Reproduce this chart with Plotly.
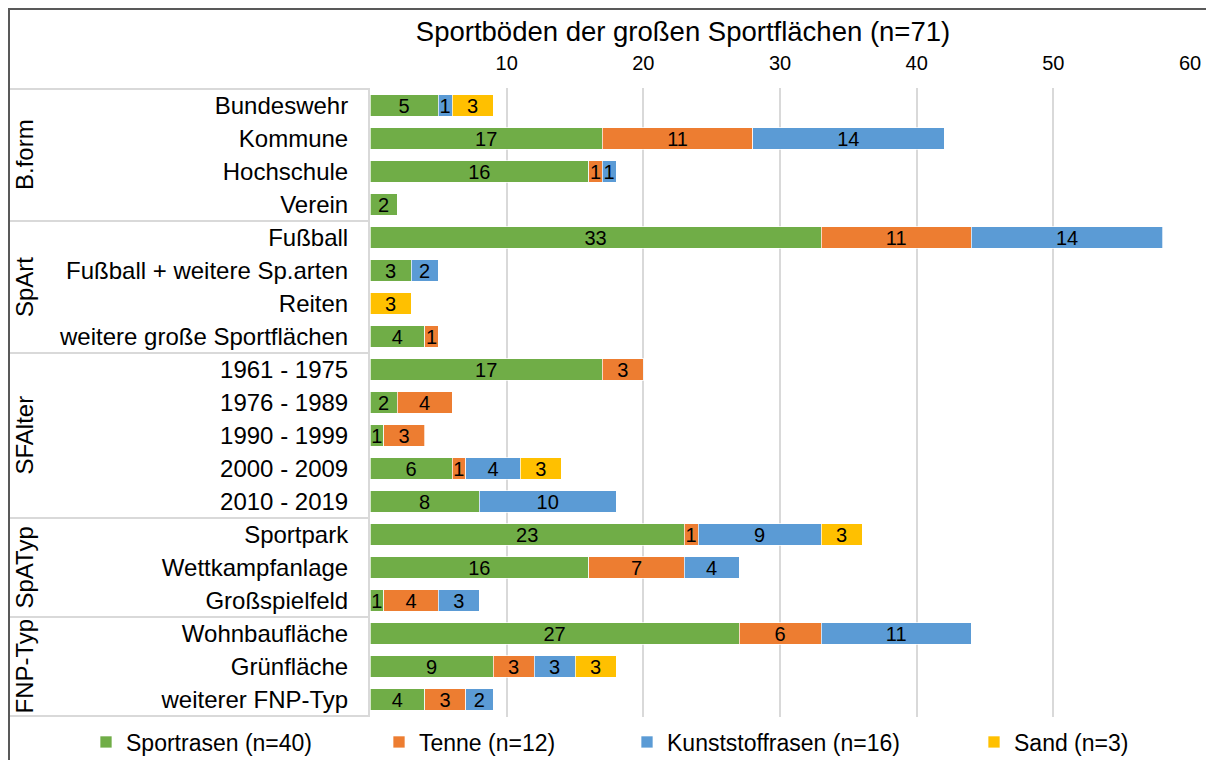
import plotly.graph_objects as go

categories = [
    "Bundeswehr", "Kommune", "Hochschule", "Verein",
    "Fußball", "Fußball + weitere Sp.arten", "Reiten", "weitere große Sportflächen",
    "1961 - 1975", "1976 - 1989", "1990 - 1999", "2000 - 2009", "2010 - 2019",
    "Sportpark", "Wettkampfanlage", "Großspielfeld",
    "Wohnbaufläche", "Grünfläche", "weiterer FNP-Typ",
]
groups = ["B.form", "SpArt", "SFAlter", "SpATyp", "FNP-Typ"]
group_sizes = [4, 4, 5, 3, 3]

sportrasen = [5, 17, 16, 2, 33, 3, 0, 4, 17, 2, 1, 6, 8, 23, 16, 1, 27, 9, 4]
tenne = [0, 11, 1, 0, 11, 0, 0, 1, 3, 4, 3, 1, 0, 1, 7, 4, 6, 3, 3]
kunststoff = [1, 14, 1, 0, 14, 2, 0, 0, 0, 0, 0, 4, 10, 9, 4, 3, 11, 3, 2]
sand = [3, 0, 0, 0, 0, 0, 3, 0, 0, 0, 0, 3, 0, 3, 0, 0, 0, 3, 0]

series_names = ["Sportrasen (n=40)", "Tenne (n=12)", "Kunststoffrasen (n=16)", "Sand (n=3)"]
series_values = [sportrasen, tenne, kunststoff, sand]
colors = ["#70AD47", "#ED7D31", "#5B9BD5", "#FFC000"]
x_ticks = [10, 20, 30, 40, 50, 60]

FONT = "Liberation Sans, Arial, sans-serif"
W, H = 1214, 760
L, R, T, B = 362, 32, 80, 51
PW, PH = W - L - R, H - T - B

def px_to_paper_x(px):
    return (px - L) / PW

def px_to_paper_y(py):
    return (H - B - py) / PH

fig = go.Figure()
legend_ids = ["legend", "legend2", "legend3", "legend4"]
for name, vals, col, lg in zip(series_names, series_values, colors, legend_ids):
    xs = [v if v else None for v in vals]
    fig.add_trace(go.Bar(
        y=categories, x=xs, name=name, orientation="h",
        marker=dict(color=col, line=dict(color="rgba(255,255,255,0.7)", width=1)),
        text=[str(v) if v else "" for v in vals],
        textposition="inside", insidetextanchor="middle", textangle=0,
        constraintext="none",
        textfont=dict(color="black", size=20, family=FONT),
        legend=lg, showlegend=True,
    ))

# legend text start positions (figure pixels)
text_starts = [119, 412, 660, 1007]
legend_layouts = {}
for lg, ts in zip(legend_ids, text_starts):
    legend_layouts[lg] = dict(
        visible=True,
        orientation="h", xref="container", yref="container",
        x=(ts - 41) / W, xanchor="left", y=1 - 734 / H, yanchor="middle",
        font=dict(size=23, family=FONT, color="black"),
        bgcolor="rgba(0,0,0,0)", itemwidth=30,
    )

shapes = []
# outer frame (only left/top visible)
shapes.append(dict(type="rect", xref="paper", yref="paper",
                   x0=px_to_paper_x(1), x1=px_to_paper_x(1240),
                   y0=px_to_paper_y(790), y1=px_to_paper_y(1),
                   line=dict(color="#595959", width=2), layer="above"))
# group separators
bounds = [-0.5]
for s in group_sizes:
    bounds.append(bounds[-1] + s)
for b in bounds:
    shapes.append(dict(type="line", xref="paper", yref="y",
                       x0=px_to_paper_x(2), x1=px_to_paper_x(361), y0=b, y1=b,
                       line=dict(color="#D9D9D9", width=2), layer="below"))

annotations = []
start = 0
for g, s in zip(groups, group_sizes):
    center = start + (s - 1) / 2
    annotations.append(dict(text=g, xref="paper", yref="y",
                            x=px_to_paper_x(16), y=center, textangle=-90,
                            showarrow=False, xanchor="center", yanchor="middle",
                            font=dict(size=24, family=FONT, color="black")))
    start += s

fig.update_layout(
    width=W, height=H,
    margin=dict(l=L, r=R, t=T, b=B, autoexpand=False),
    barmode="stack", bargap=0.34,
    plot_bgcolor="white", paper_bgcolor="white",
    font=dict(family=FONT, color="black"),
    showlegend=True,
    title=dict(text="Sportböden der großen Sportflächen (n=71)",
               x=675 / W, xanchor="center", y=1 - 23 / H, yanchor="middle",
               font=dict(size=27.5, family=FONT, color="black")),
    xaxis=dict(side="top", range=[0, 60], tickvals=x_ticks,
               showgrid=True, gridcolor="#D9D9D9", gridwidth=2,
               zeroline=False, showline=False, ticks="",
               tickfont=dict(size=20, family=FONT, color="black"),
               ticklabelstandoff=13, fixedrange=True),
    yaxis=dict(type="category", autorange="reversed",
               showline=True, linecolor="#D9D9D9", linewidth=2,
               showgrid=False, ticks="", ticklabelstandoff=15,
               tickfont=dict(size=24, family=FONT, color="black"),
               fixedrange=True),
    shapes=shapes, annotations=annotations,
    **legend_layouts,
)

fig.write_html("out.html")
